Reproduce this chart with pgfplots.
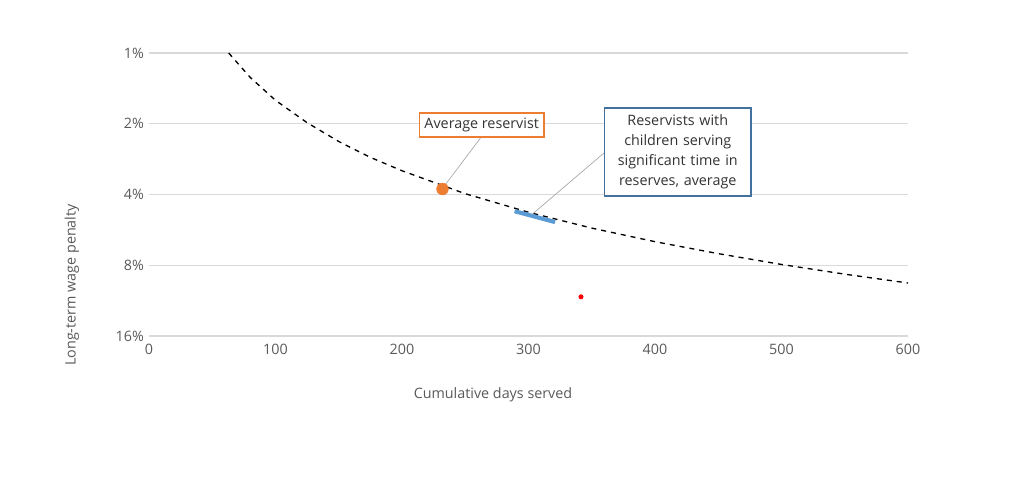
\documentclass[border=0pt]{standalone}
\usepackage{pgfplots}
\pgfplotsset{compat=1.18}
\usepackage{fontspec}
\setmainfont{Open Sans}
\definecolor{txt}{HTML}{595959}
\definecolor{org}{HTML}{ED7D31}
\definecolor{blu}{HTML}{5B9BD5}
\definecolor{bbox}{HTML}{41719C}
\begin{document}
\fontsize{8.6}{10.5}\selectfont
\begin{tikzpicture}
\path[use as bounding box] (0pt,0pt) rectangle (614.4pt,288pt);
\begin{axis}[at={(89.4pt,86.4pt)},anchor=south west,scale only axis,
 width=455.4pt,height=169.8pt,
 ymode=log,y dir=reverse,ymin=1,ymax=16,xmin=0,xmax=600,
 ytick={1,2,4,8,16},yticklabels={1\%,2\%,4\%,8\%,16\%},
 xtick={0,100,...,600},
 /pgf/number format/assume math mode=true,
 axis line style={draw=none},tick style={draw=none},
 ymajorgrids,grid style={color=black!15,line width=0.8pt},
 ticklabel style={color=txt,font=\fontsize{8.6}{10}\selectfont},
 xticklabel style={yshift=-2pt},
 clip=false,
 legend style={at={(0.45,-0.6)},anchor=center,draw=none,text=txt,
   font=\fontsize{8.6}{10}\selectfont},
 legend image code/.code={\draw[#1] (0cm,0cm) -- (0.9cm,0cm);},
]
\addplot[black,dashed,thick] coordinates {(63,1.0)(80,1.27)(100,1.59)(125,1.98)(150,2.38)(175,2.78)(200,3.17)(250,3.97)(300,4.76)(350,5.56)(400,6.35)(450,7.14)(500,7.94)(550,8.73)(600,9.52)};
\addlegendentry{Expected wage penalty due to absence}
\addplot[blu,line width=2.5pt,forget plot] coordinates {(289,4.71)(321,5.24)};
\addplot[only marks,mark=*,org,mark size=3.5pt,forget plot] coordinates {(232,3.79)};
\addplot[only marks,mark=*,red,mark size=1.3pt,forget plot] coordinates {(341.5,10.9)};
\draw[black!35] (axis cs:262,2.30) -- (axis cs:234,3.65);
\draw[black!35] (axis cs:360.5,2.64) -- (axis cs:303,4.85);
\node[draw=org,line width=1pt,fill=white,text=black!80,inner sep=3pt] at (axis cs:263,2.03) {Average reservist};
\node[draw=bbox,line width=1pt,fill=white,text=black!80,align=center,text width=80pt,inner sep=4pt,font=\fontsize{8.6}{12}\selectfont] at (axis cs:418,2.64) {Reservists with\\children serving\\significant time in\\reserves, average};
\end{axis}
\node[text=txt,rotate=90] at (43.2pt,117pt) {Long-term wage penalty};
\node[text=txt] at (295.8pt,51pt) {Cumulative days served};
\end{tikzpicture}
\end{document}
